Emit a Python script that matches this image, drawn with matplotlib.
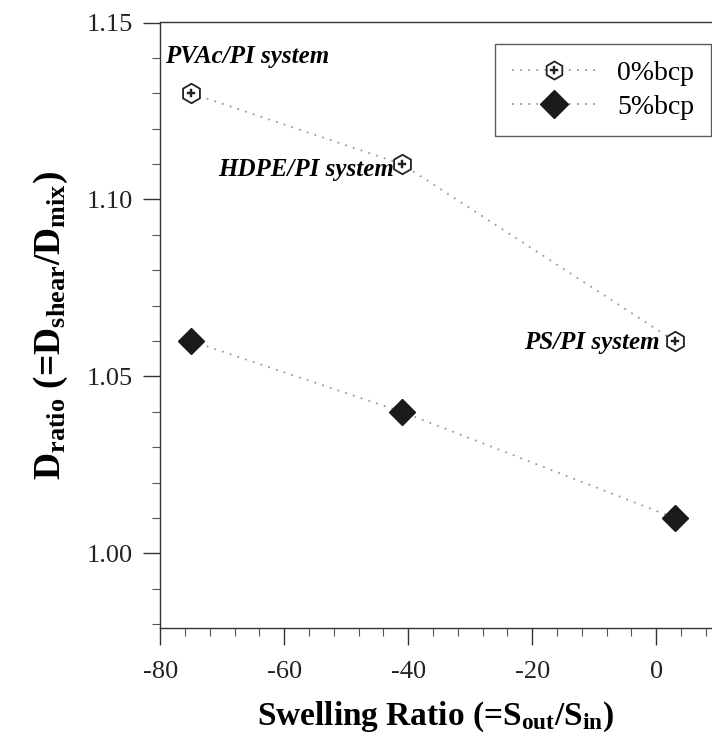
import matplotlib
matplotlib.use("Agg")
import matplotlib.pyplot as plt
from matplotlib.ticker import MultipleLocator, FormatStrFormatter
from matplotlib.lines import Line2D

swelling = [-75, -41, 3]
d_0bcp = [1.13, 1.11, 1.06]
d_5bcp = [1.06, 1.04, 1.01]
series_labels = ["0%bcp", "5%bcp"]
annotations = ["PVAc/PI system", "HDPE/PI system", "PS/PI system"]

plt.rcParams['font.family'] = ['Liberation Serif', 'DejaVu Serif']
plt.rcParams['mathtext.fontset'] = 'custom'
plt.rcParams['mathtext.rm'] = 'Liberation Serif'
plt.rcParams['mathtext.bf'] = 'Liberation Serif:bold'
plt.rcParams['mathtext.it'] = 'Liberation Serif:italic'
plt.rcParams['axes.unicode_minus'] = False

fig = plt.figure(figsize=(7.12, 7.5), dpi=100)
ax = fig.add_axes([0.225, 0.163, 0.774, 0.807])

gray = '#9a9a9a'
ls = (0, (1, 3.5))
ax.plot(swelling, d_0bcp, linestyle=ls, color=gray, lw=1.3, zorder=1)
ax.plot(swelling, d_0bcp, linestyle='none', marker='h', ms=14, mfc='white', mec='#222222', mew=1.3, zorder=3)
ax.plot(swelling, d_0bcp, linestyle='none', marker='P', ms=5.5, mfc='#222222', mec='#222222', mew=0.3, zorder=4)
ax.plot(swelling, d_5bcp, linestyle=ls, color=gray, lw=1.3, zorder=1)
ax.plot(swelling, d_5bcp, linestyle='none', marker='D', ms=13, mfc='#1a1a1a', mec='#1a1a1a', zorder=3)

ax.set_xlim(-80, 8.9)
ax.set_ylim(0.979, 1.15)
ax.xaxis.set_major_locator(MultipleLocator(20))
ax.xaxis.set_minor_locator(MultipleLocator(4))
ax.yaxis.set_major_locator(MultipleLocator(0.05))
ax.yaxis.set_minor_locator(MultipleLocator(0.01))
ax.yaxis.set_major_formatter(FormatStrFormatter('%.2f'))
ax.tick_params(axis='both', which='major', length=12, width=1, labelsize=19, color='#333333', labelcolor='#222222')
ax.tick_params(axis='both', which='minor', length=6, width=0.8, color='#555555')
ax.tick_params(axis='x', pad=12)
ax.tick_params(axis='y', pad=8)
ax.spines['right'].set_visible(False)
for s in ['left', 'top', 'bottom']:
    ax.spines[s].set_color('#333333')
    ax.spines[s].set_linewidth(1.0)

ax.set_xlabel(r'Swelling Ratio (=S$_{\mathbf{out}}$/S$_{\mathbf{in}}$)', fontsize=24, fontweight='bold', labelpad=12)
ax.set_ylabel(r'D$_{\mathbf{ratio}}$ (=D$_{\mathbf{shear}}$/D$_{\mathbf{mix}}$)', fontsize=27, fontweight='bold', labelpad=12)

ax.text(-79.2, 1.1405, annotations[0], fontsize=18, fontweight='bold', style='italic', ha='left', va='center')
ax.text(-42.3, 1.1085, annotations[1], fontsize=18, fontweight='bold', style='italic', ha='right', va='center')
ax.text(0.6, 1.0595, annotations[2], fontsize=18, fontweight='bold', style='italic', ha='right', va='center')

h0 = (Line2D([], [], linestyle=ls, color=gray, lw=1.3),
      Line2D([], [], linestyle='none', marker='h', ms=13, mfc='white', mec='#222222', mew=1.3),
      Line2D([], [], linestyle='none', marker='P', ms=5.5, mfc='#222222', mec='#222222', mew=0.3))
h1 = (Line2D([], [], linestyle=ls, color=gray, lw=1.3),
      Line2D([], [], linestyle='none', marker='D', ms=14, mfc='#1a1a1a', mec='#1a1a1a'))
leg = ax.legend([h0, h1], series_labels, loc='upper right', bbox_to_anchor=(1.0, 0.965),
                fontsize=20, frameon=True, fancybox=False, edgecolor='#333333',
                handlelength=3.0, borderpad=0.6, labelspacing=0.3, handletextpad=0.8,
                borderaxespad=0.0)
leg.get_frame().set_linewidth(1.0)

fig.savefig('out.png', dpi=100)
